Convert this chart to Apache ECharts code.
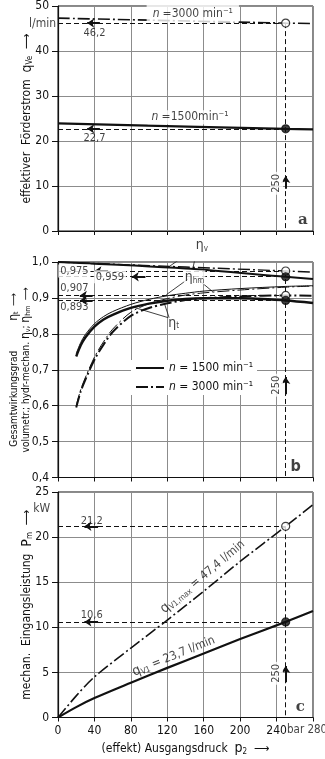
<!DOCTYPE html>
<html>
<head>
<meta charset="utf-8">
<script src="https://cdn.jsdelivr.net/npm/echarts@6/dist/echarts.min.js"></script>
<style>
  html, body { margin: 0; padding: 0; background: #fff; }
  #chart { width: 325px; height: 759px; }
</style>
</head>
<body>
<div id="chart"></div>
<script>
const FONT = '"Liberation Sans Narrow", "DejaVu Sans Condensed", "Roboto", sans-serif'

// Bild a: effektiver Förderstrom q_Ve (l/min) über p2 (bar)
const pA = [0, 250, 280]
const qVe3000 = [47.3, 46.2, 46.1]
const qVe1500 = [23.9, 22.7, 22.6]

// Bild b: Wirkungsgrade
const pV = [0, 140, 250, 280]
const etaV1500 = [1.0, 0.982, 0.959, 0.953]
const etaV3000 = [1.0, 0.986, 0.975, 0.972]
const pEta = [20, 25, 30, 40, 50, 60, 80, 100, 120, 140, 160, 200, 250, 280]
const etaT1500 = [0.737, 0.768, 0.79, 0.82, 0.84, 0.853, 0.872, 0.884, 0.892, 0.897, 0.899, 0.899, 0.893, 0.886]
const etaHm1500 = [0.745, 0.776, 0.798, 0.828, 0.848, 0.862, 0.882, 0.896, 0.906, 0.913, 0.919, 0.926, 0.932, 0.934]
const etaT3000 = [0.595, 0.64, 0.672, 0.728, 0.77, 0.805, 0.85, 0.872, 0.885, 0.894, 0.899, 0.904, 0.907, 0.906]
const etaHm3000 = [0.6, 0.645, 0.678, 0.735, 0.778, 0.813, 0.86, 0.884, 0.898, 0.908, 0.914, 0.922, 0.93, 0.933]

// Bild c: mechanische Eingangsleistung P_m (kW)
const pC = [0, 20, 40, 80, 120, 160, 200, 250, 280]
const pm3000 = [0, 2.4, 4.5, 7.7, 10.8, 14.0, 17.3, 21.2, 23.6]
const pm1500 = [0, 1.15, 2.15, 3.85, 5.5, 7.1, 8.7, 10.6, 11.8]

// Ablesewerte bei p2 = 250 bar
const pRead = 250
const readA = [46.2, 22.7]
const readB = [0.975, 0.959, 0.907, 0.893]
const readC = [21.2, 10.6]

const DASHDOT = [12, 3, 2, 3]
const INK = '#111'

const RICH = {
  t: { fontFamily: FONT, fontSize: 12, color: INK },
  i: { fontFamily: FONT, fontSize: 12, fontStyle: 'italic', color: INK },
  e: { fontFamily: FONT, fontSize: 14, color: INK },
  s: { fontFamily: FONT, fontSize: 8, color: INK, verticalAlign: 'bottom', padding: [6, 0, 0, 0] }
}
// etwas kleiner für die zweizeilige Achsbeschriftung in Bild b
const RICH_B = {
  t: { fontFamily: FONT, fontSize: 10, color: INK },
  e: { fontFamily: FONT, fontSize: 12, color: INK },
  s: { fontFamily: FONT, fontSize: 7, color: INK, verticalAlign: 'bottom', padding: [5, 0, 0, 0] },
  g: { width: 30 }
}

function zip (xs, ys) {
  return xs.map((x, i) => [x, ys[i]])
}

function curve (name, g, xs, ys, width, dashed) {
  return {
    name: name,
    type: 'line',
    xAxisIndex: g,
    yAxisIndex: g,
    data: zip(xs, ys),
    symbol: 'none',
    smooth: 0.3,
    silent: true,
    z: 3,
    itemStyle: { color: INK },
    lineStyle: { color: INK, width: width, type: dashed ? DASHDOT : 'solid' }
  }
}

function segs (g, list, opts) {
  return Object.assign({
    type: 'lines',
    coordinateSystem: 'cartesian2d',
    xAxisIndex: g,
    yAxisIndex: g,
    silent: true,
    z: 4,
    symbol: 'none',
    lineStyle: { color: INK, width: 1, opacity: 1, curveness: 0 },
    data: list.map(c => ({ coords: c }))
  }, opts)
}

function dashedRefs (g, vals, bottom) {
  const list = vals.map(v => [[0, v], [pRead, v]])
  list.push([[pRead, vals[0]], [pRead, bottom]])
  return segs(g, list, { lineStyle: { color: INK, width: 1, opacity: 1, type: [5, 3] } })
}

function arrows (g, list) {
  return segs(g, list, { symbol: ['none', 'arrow'], symbolSize: [0, 7], z: 5, lineStyle: { color: INK, width: 2, opacity: 1 } })
}

function markers (g, vals, open) {
  return {
    type: 'scatter',
    xAxisIndex: g,
    yAxisIndex: g,
    silent: true,
    z: 6,
    symbolSize: 8,
    data: vals.map((v, i) => ({
      value: [pRead, v],
      itemStyle: { color: open[i] ? '#fff' : INK, borderColor: INK, borderWidth: 1.2 }
    }))
  }
}

function notes (g, items) {
  return {
    type: 'scatter',
    xAxisIndex: g,
    yAxisIndex: g,
    silent: true,
    clip: false,
    z: 7,
    symbolSize: 1,
    itemStyle: { color: 'rgba(0,0,0,0)' },
    data: items.map(it => ({
      value: it.at,
      label: Object.assign({
        show: true,
        position: 'inside',
        formatter: it.text,
        fontFamily: FONT,
        fontSize: 11,
        color: INK,
        rich: RICH
      }, it.style || {})
    }))
  }
}

const WHITE = { backgroundColor: '#fff', padding: [1, 2] }

function xAx (g, labels) {
  return {
    type: 'value',
    gridIndex: g,
    min: 0,
    max: 280,
    interval: 40,
    axisLine: { lineStyle: { color: INK, width: 1.2 } },
    axisTick: { show: true, length: 4, lineStyle: { color: INK } },
    axisLabel: { show: labels, margin: 7, fontFamily: FONT, fontSize: 12, color: INK, formatter: v => v === 280 ? '' : String(v) },
    splitLine: { show: true, lineStyle: { color: '#8c8c8c', width: 1 } },
    name: labels ? '{t|(effekt) Ausgangsdruck  }{e|p}{s|2}{t|  ⟶}' : '',
    nameLocation: 'middle',
    nameGap: 24,
    nameMoveOverlap: false,
    nameTextStyle: { rich: RICH }
  }
}

function yAx (g, min, max, interval, name, fmt, gap, rich) {
  return {
    type: 'value',
    gridIndex: g,
    min: min,
    max: max,
    interval: interval,
    axisLine: { show: true, lineStyle: { color: INK, width: 1.2 } },
    axisTick: { show: true, length: 6, lineStyle: { color: INK } },
    axisLabel: { margin: 9, fontFamily: FONT, fontSize: 12, color: INK, formatter: fmt },
    splitLine: { show: true, lineStyle: { color: '#8c8c8c', width: 1 } },
    name: name,
    nameLocation: 'middle',
    nameRotate: 90,
    nameGap: gap,
    nameMoveOverlap: false,
    nameTextStyle: { rich: rich || RICH }
  }
}

const gridBase = { left: 58, right: 12, show: true, borderColor: INK, borderWidth: 1 }

let chart = echarts.init(document.getElementById('chart'))
chart.setOption({
  animation: false,
  backgroundColor: '#fff',
  color: [INK],
  grid: [
    Object.assign({ top: 5, height: 226 }, gridBase),
    Object.assign({ top: 262, height: 215.5 }, gridBase),
    Object.assign({ top: 492, height: 225.5 }, gridBase)
  ],
  xAxis: [xAx(0, false), xAx(1, false), xAx(2, true)],
  yAxis: [
    yAx(0, 0, 50, 10, '{t|effektiver  Förderstrom  }{e|q}{s|Ve}{t|  ⟶}', null, 24),
    yAx(1, 0.4, 1.0, 0.1,
      '{t|Gesamtwirkungsgrad}{g|}{e|η}{s|t}{t|  ⟶}\n{t|volumetr.; hydr-mechan. }{e|η}{s|v}{t|; }{e|η}{s|hm}{t|  ⟶}',
      v => v.toFixed(1).replace('.', ','), 26, RICH_B),
    yAx(2, 0, 25, 5, '{t|mechan.  Eingangsleistung  }{e|P}{s|m}{t|  ⟶}', null, 24)
  ],
  legend: {
    data: ['n1500', 'n3000'],
    orient: 'vertical',
    left: 131,
    top: 360,
    itemWidth: 28,
    itemHeight: 10,
    itemGap: 7,
    padding: [2, 4],
    backgroundColor: '#fff',
    selectedMode: false,
    itemStyle: { color: 'rgba(0,0,0,0)', borderWidth: 0 },
    formatter: name => name === 'n1500' ? '{i|n} = 1500 min⁻¹' : '{i|n} = 3000 min⁻¹',
    textStyle: { fontFamily: FONT, fontSize: 12, color: INK, rich: RICH }
  },
  series: [
    // Bild a
    curve('qVe3000', 0, pA, qVe3000, 1.6, true),
    curve('qVe1500', 0, pA, qVe1500, 2.2, false),
    dashedRefs(0, readA, 0),
    arrows(0, [[[46, 46.2], [32, 46.2]], [[46, 22.7], [32, 22.7]], [[250, 9.4], [250, 12.2]]]),
    markers(0, readA, [true, false]),
    notes(0, [
      { at: [-17, 46], text: 'l/min', style: { fontSize: 12 } },
      { at: [40, 44.0], text: '46,2' },
      { at: [40, 20.7], text: '22,7' },
      { at: [148, 48.3], text: '{i|n} {t|=3000 min⁻¹}', style: { backgroundColor: '#fff', padding: [3, 6] } },
      { at: [145, 25.3], text: '{i|n} {t|=1500min⁻¹}', style: { backgroundColor: '#fff', padding: [1, 4] } },
      { at: [240, 10.6], text: '250', style: Object.assign({ rotate: 90 }, WHITE) },
      { at: [269, 2.4], text: 'a', style: { fontFamily: 'DejaVu Serif, serif', fontWeight: 'bold', fontSize: 15 } }
    ]),

    // Bild b
    curve('n1500', 1, pEta, etaT1500, 2.4, false),
    curve('n3000', 1, pEta, etaT3000, 2.0, true),
    curve('etaHm1500', 1, pEta, etaHm1500, 1.0, false),
    curve('etaHm3000', 1, pEta, etaHm3000, 1.0, true),
    curve('etaV1500', 1, pV, etaV1500, 2.0, false),
    curve('etaV3000', 1, pV, etaV3000, 1.4, true),
    dashedRefs(1, readB, 0.4),
    segs(1, [
      [[152, 1.04], [123, 0.989]], [[153, 1.04], [148, 0.981]],
      [[143, 0.953], [119, 0.909]], [[154, 0.951], [170, 0.917]],
      [[121, 0.845], [83, 0.874]], [[122, 0.845], [117, 0.883]]
    ], { lineStyle: { color: INK, width: 0.8, opacity: 1 } }),
    arrows(1, [
      [[55, 0.975], [40, 0.975]], [[96, 0.959], [81, 0.959]],
      [[38, 0.907], [24, 0.907]], [[38, 0.893], [24, 0.893]],
      [[250, 0.632], [250, 0.68]]
    ]),
    markers(1, readB, [true, false, true, false]),
    notes(1, [
      { at: [18, 0.975], text: '0,975', style: WHITE },
      { at: [57, 0.959], text: '0,959', style: WHITE },
      { at: [18, 0.926], text: '0,907' },
      { at: [18, 0.874], text: '0,893' },
      { at: [158, 1.046], text: '{e|η}{s|v}' },
      { at: [150, 0.957], text: '{e|η}{s|hm}', style: { backgroundColor: '#fff', padding: [0, 1] } },
      { at: [127, 0.83], text: '{e|η}{s|t}' },
      { at: [240, 0.657], text: '250', style: Object.assign({ rotate: 90 }, WHITE) },
      { at: [261, 0.43], text: 'b', style: { fontWeight: 'bold', fontSize: 16 } }
    ]),

    // Bild c
    curve('pm3000', 2, pC, pm3000, 1.6, true),
    curve('pm1500', 2, pC, pm1500, 2.2, false),
    dashedRefs(2, readC, 0),
    arrows(2, [[[44, 21.2], [29, 21.2]], [[44, 10.6], [29, 10.6]], [[250, 3.9], [250, 5.7]]]),
    markers(2, readC, [true, false]),
    notes(2, [
      { at: [-18, 23.1], text: 'kW', style: { fontSize: 12 } },
      { at: [37, 21.8], text: '21,2' },
      { at: [37, 11.4], text: '10,6' },
      { at: [159, 15.6], text: '{e|q}{s|V1,max}{t| = 47,4 l/min}', style: { rotate: 40 } },
      { at: [127, 6.8], text: '{e|q}{s|V1}{t| = 23,7 l/min}', style: { rotate: 22 } },
      { at: [240, 4.9], text: '250', style: Object.assign({ rotate: 90 }, WHITE) },
      { at: [273.5, -1.42], text: 'bar 280', style: { fontSize: 11.5 } },
      { at: [266, 1.2], text: 'c', style: { fontFamily: 'DejaVu Serif, serif', fontWeight: 'bold', fontSize: 15 } }
    ])
  ]
})
</script>
</body>
</html>
